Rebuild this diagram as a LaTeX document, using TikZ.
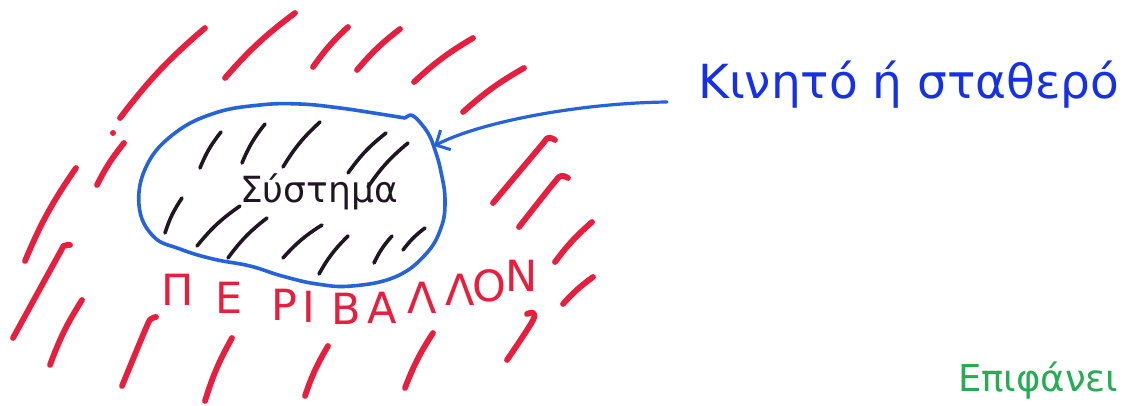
\documentclass[tikz,border=0pt]{standalone}
\usepackage{fontspec}
\setmainfont{DejaVu Sans}
\usetikzlibrary{arrows.meta}
\definecolor{mred}{RGB}{232,30,62}
\definecolor{mblue}{RGB}{38,98,218}
\definecolor{tblue}{RGB}{22,48,232}
\definecolor{mgreen}{RGB}{38,172,84}
\definecolor{mblack}{RGB}{32,22,34}
\begin{document}
\begin{tikzpicture}[x=1pt,y=-1pt,
  redstroke/.style={draw=mred,line width=5.8pt,line cap=round,line join=round},
  blackstroke/.style={draw=mblack,line width=3.6pt,line cap=round,line join=round},
  bluestroke/.style={draw=mblue,line width=3.6pt,line cap=round,line join=round},
  arrowline/.style={draw=mblue,line width=3.2pt,line cap=round,-{Straight Barb[length=11pt,width=22pt,line width=3pt]}},
  redletter/.style={text=mred,inner sep=0pt,font=\fontsize{43}{47}\selectfont},
  systext/.style={text=mblack,inner sep=0pt,anchor=base west,font=\fontsize{36}{40}\selectfont},
  bluetext/.style={text=tblue,inner sep=0pt,anchor=base west,font=\fontsize{47}{52}\selectfont},
  greentext/.style={text=mgreen,inner sep=0pt,anchor=base west,font=\fontsize{37}{41}\selectfont}]
\useasboundingbox (0,0) rectangle (1128,406);
\fill[white] (0,0) rectangle (1128,406);

% red environment strokes (plain)
\foreach \ax/\ay/\bx/\by in {205/28/120/118, 295/13/225/78, 348/27/313/67, 400/29/357/70,
  473/38/414/82, 524/68/463/112, 124/143/97/185, 76/168/25/261, 82/300/50/365,
  232/338/205/401, 328/346/305/396, 433/333/405/388, 592/222/555/262, 593/277/563/304}
  \draw[redstroke] (\ax,\ay) to[bend right=6] (\bx,\by);
% red strokes with a hooked top
\draw[redstroke] plot[smooth,tension=0.6] coordinates {(70,245) (64,246) (58,256) (13,338)};
\draw[redstroke] plot[smooth,tension=0.6] coordinates {(156,317) (151,319) (146,328) (122,386)};
\draw[redstroke] plot[smooth,tension=0.6] coordinates {(527,314) (533,313) (532,322) (507,360)};
\draw[redstroke] plot[smooth,tension=0.6] coordinates {(555,140) (548,138) (540,147) (493,203)};
\draw[redstroke] plot[smooth,tension=0.6] coordinates {(568,178) (561,176) (553,184) (519,227)};
\fill[mred] (113,133) circle (3pt);

% the system boundary
\draw[bluestroke] plot[smooth,tension=0.7] coordinates {(417,119) (428,133) (435,150) (441,172)
  (445,200) (441,228) (425,255) (395,277) (352,286) (317,284) (282,276) (250,266) (213,259)
  (180,249) (153,236) (139,205) (147,165) (175,133) (215,113) (260,105) (300,104) (340,108)
  (380,114) (405,118)};
\draw[bluestroke] plot[smooth,tension=0.6] coordinates {(405,118) (411,115) (417,119)};

% black hatching inside the system
\foreach \ax/\ay/\bx/\by in {221/132/200/168, 265/124/242/163, 320/122/283/167, 386/133/348/173,
  408/143/368/187, 182/198/165/233, 240/206/197/246, 267/218/228/258, 322/225/283/258,
  348/236/319/274, 392/236/374/263, 425/228/403/250}
  \draw[blackstroke] (\ax,\ay) to[bend right=8] (\bx,\by);

% texts
\node[systext] (sys) at (240,203) {Σύστημα};
\node[bluetext] (kt) at (698,99) {Κινητό ή σταθερό};
\node[greentext] (ep) at (958,391) {Επιφάνει};

\foreach \l/\x/\y [count=\i] in {Π/178/290, Ε/229/298, Ρ/284/305, Ι/309/307, Β/346/309,
  Α/382/308, Λ/422/298, Λ/460/290, Ο/489/286, Ν/522/276}
  \node[redletter] (env\i) at (\x,\y) {\l};

% arrow from the label to the boundary
\coordinate (astart) at (667,102);
\coordinate (atip) at (434,146);
\draw[arrowline] (astart) .. controls (580,103) and (480,122) .. (atip);
\end{tikzpicture}
\end{document}
